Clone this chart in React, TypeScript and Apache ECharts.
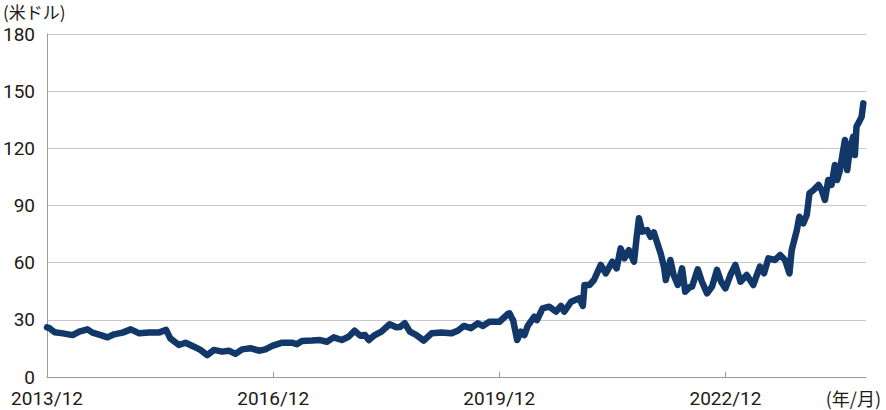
import React, { useEffect, useRef } from "react";
import * as echarts from "echarts";

const dates: string[] = [
  "2013-12-01", "2013-12-13", "2014-01-07", "2014-02-16", "2014-04-04", "2014-05-06", "2014-06-15",
  "2014-07-09", "2014-08-19", "2014-09-20", "2014-10-22", "2014-12-02", "2015-01-11", "2015-02-21",
  "2015-04-09", "2015-05-26", "2015-07-01", "2015-07-21", "2015-09-01", "2015-10-03", "2015-11-13",
  "2015-12-14", "2016-01-16", "2016-02-18", "2016-03-28", "2016-04-30", "2016-06-01", "2016-07-03",
  "2016-08-13", "2016-09-23", "2016-10-24", "2016-11-26", "2017-01-13", "2017-03-01", "2017-03-25",
  "2017-04-19", "2017-06-06", "2017-07-16", "2017-08-18", "2017-09-20", "2017-10-29", "2017-12-01",
  "2017-12-30", "2018-01-26", "2018-02-19", "2018-03-09", "2018-04-07", "2018-05-09", "2018-06-18",
  "2018-07-20", "2018-08-06", "2018-08-30", "2018-09-24", "2018-10-26", "2018-11-30", "2019-01-07",
  "2019-02-24", "2019-04-12", "2019-05-14", "2019-06-12", "2019-07-17", "2019-08-19", "2019-09-12",
  "2019-10-14", "2019-12-02", "2020-01-12", "2020-01-20", "2020-01-28", "2020-02-06", "2020-02-26",
  "2020-03-15", "2020-04-01", "2020-04-17", "2020-05-18", "2020-06-01", "2020-06-28", "2020-07-30",
  "2020-09-01", "2020-09-25", "2020-10-11", "2020-11-13", "2020-12-23", "2021-01-09", "2021-01-17",
  "2021-02-10", "2021-03-04", "2021-04-06", "2021-04-30", "2021-06-01", "2021-06-22", "2021-07-11",
  "2021-07-30", "2021-08-20", "2021-09-14", "2021-09-27", "2021-10-08", "2021-10-24", "2021-11-17",
  "2021-12-03", "2021-12-19", "2022-01-05", "2022-01-21", "2022-02-06", "2022-02-15", "2022-03-09",
  "2022-03-25", "2022-04-14", "2022-05-05", "2022-05-20", "2022-06-10", "2022-06-22", "2022-07-20",
  "2022-08-09", "2022-09-03", "2022-09-27", "2022-10-21", "2022-11-10", "2022-12-01", "2022-12-25",
  "2023-01-18", "2023-02-12", "2023-03-14", "2023-04-15", "2023-05-17", "2023-06-06", "2023-06-27",
  "2023-07-29", "2023-08-23", "2023-09-16", "2023-10-07", "2023-10-18", "2023-11-12", "2023-11-24",
  "2023-12-13", "2023-12-30", "2024-01-12", "2024-02-01", "2024-02-25", "2024-03-11", "2024-03-27",
  "2024-04-12", "2024-04-28", "2024-05-14", "2024-05-25", "2024-06-08", "2024-06-21", "2024-07-02",
  "2024-07-13", "2024-07-26", "2024-08-11", "2024-08-19", "2024-08-27", "2024-09-09", "2024-09-21",
  "2024-09-29",
];

const prices: number[] = [
  26.0, 25.6, 23.5, 22.9, 22.0, 23.8, 25.0,
  23.3, 22.0, 20.8, 22.4, 23.3, 25.0, 22.9,
  23.3, 23.3, 24.7, 20.3, 16.8, 18.0, 15.9,
  14.2, 11.5, 14.2, 13.3, 13.8, 12.1, 14.5,
  15.1, 13.8, 14.5, 16.3, 18.0, 18.0, 17.2,
  18.9, 19.1, 19.4, 18.5, 20.8, 19.4, 21.1,
  24.3, 21.7, 22.0, 19.4, 22.0, 23.8, 27.7,
  26.1, 26.2, 28.2, 23.8, 22.0, 19.1, 22.9,
  23.3, 22.9, 24.3, 26.8, 25.6, 28.2, 26.8,
  29.0, 29.0, 33.1, 33.4, 31.6, 29.9, 19.4,
  23.8, 22.0, 26.8, 31.6, 29.9, 36.0, 36.9,
  34.3, 37.3, 34.3, 39.5, 41.3, 37.3, 48.3,
  48.3, 50.9, 58.8, 54.4, 60.5, 57.0, 67.5,
  62.3, 66.6, 60.5, 73.6, 83.3, 76.3, 77.1,
  73.6, 75.9, 70.2, 64.9, 57.9, 50.9, 61.4,
  53.5, 48.3, 57.0, 44.8, 47.1, 47.4, 56.5,
  50.0, 43.9, 47.4, 56.2, 50.0, 46.5, 53.5,
  58.8, 50.0, 53.5, 48.3, 57.9, 54.4, 62.3,
  61.4, 64.0, 61.4, 54.4, 66.6, 77.1, 84.1,
  80.6, 85.0, 96.4, 98.1, 100.8, 98.1, 92.9,
  103.4, 100.8, 111.3, 103.4, 108.6, 117.4, 124.4,
  108.6, 120.0, 126.1, 116.5, 131.4, 134.0, 136.6,
  143.6,
];

const xTickDates: string[] = ["2013-12-01", "2016-12-01", "2019-12-01", "2022-12-01"];
const xStart = "2013-12-01";
const xEnd = "2024-10-12";
const yTicks: number[] = [0, 30, 60, 90, 120, 150, 180];
const unitY = "(米ドル)";
const unitX = "(年/月)";

const numFont = '"Liberation Sans Narrow", "Arial Narrow", Roboto, sans-serif';
const jpFont = '"Noto Sans CJK JP", sans-serif';

export default function App() {
  const ref = useRef<HTMLDivElement>(null);
  useEffect(() => {
    if (!ref.current) return;
    const chart = echarts.init(ref.current, undefined, { renderer: "svg" });
    const ts = (s: string) => new Date(s + "T00:00:00Z").getTime();
    const tickTs = xTickDates.map(ts);
    chart.setOption({
      animation: false,
      backgroundColor: "#ffffff",
      grid: { left: 44, right: 20, top: 34, bottom: 33, containLabel: false },
      xAxis: {
        type: "value",
        min: ts(xStart),
        max: ts(xEnd),
        axisLine: { show: true, lineStyle: { color: "#9a9a9a", width: 1 } },
        axisTick: {
          show: true,
          inside: true,
          length: 5,
          customValues: tickTs,
          lineStyle: { color: "#9a9a9a" },
        },
        axisLabel: {
          customValues: tickTs,
          formatter: (v: number) => {
            const d = new Date(v);
            return d.getUTCFullYear() + "/" + (d.getUTCMonth() + 1);
          },
          color: "#231815",
          fontFamily: numFont,
          fontSize: 19,
          lineHeight: 19,
          margin: 12,
        },
        splitLine: { show: false },
      },
      yAxis: {
        type: "value",
        min: yTicks[0],
        max: yTicks[yTicks.length - 1],
        interval: 30,
        axisLine: { show: true, lineStyle: { color: "#9a9a9a", width: 1 } },
        axisTick: { show: false },
        axisLabel: {
          color: "#231815",
          fontFamily: numFont,
          fontSize: 19,
          lineHeight: 19,
          margin: 12,
        },
        splitLine: { show: true, lineStyle: { color: "#c9c9c9", width: 1 } },
      },
      graphic: [
        {
          type: "text",
          left: 3,
          top: 3,
          style: {
            text: unitY,
            fill: "#231815",
            fontFamily: jpFont,
            fontSize: 17,
            fontWeight: "normal",
          },
        },
        {
          type: "text",
          right: 5,
          top: 389,
          style: {
            text: unitX,
            fill: "#231815",
            fontFamily: jpFont,
            fontSize: 18,
            fontWeight: "normal",
          },
        },
      ],
      series: [
        {
          type: "line",
          data: dates.map((d, i) => [ts(d), prices[i]]),
          showSymbol: false,
          symbol: "none",
          lineStyle: { color: "#12386a", width: 6.5, join: "round", cap: "round" },
        },
      ],
    });
    return () => chart.dispose();
  }, []);
  return (
    <div
      ref={ref}
      style={{ position: "fixed", left: 0, top: 0, width: 886, height: 410, background: "#fff" }}
    />
  );
}
